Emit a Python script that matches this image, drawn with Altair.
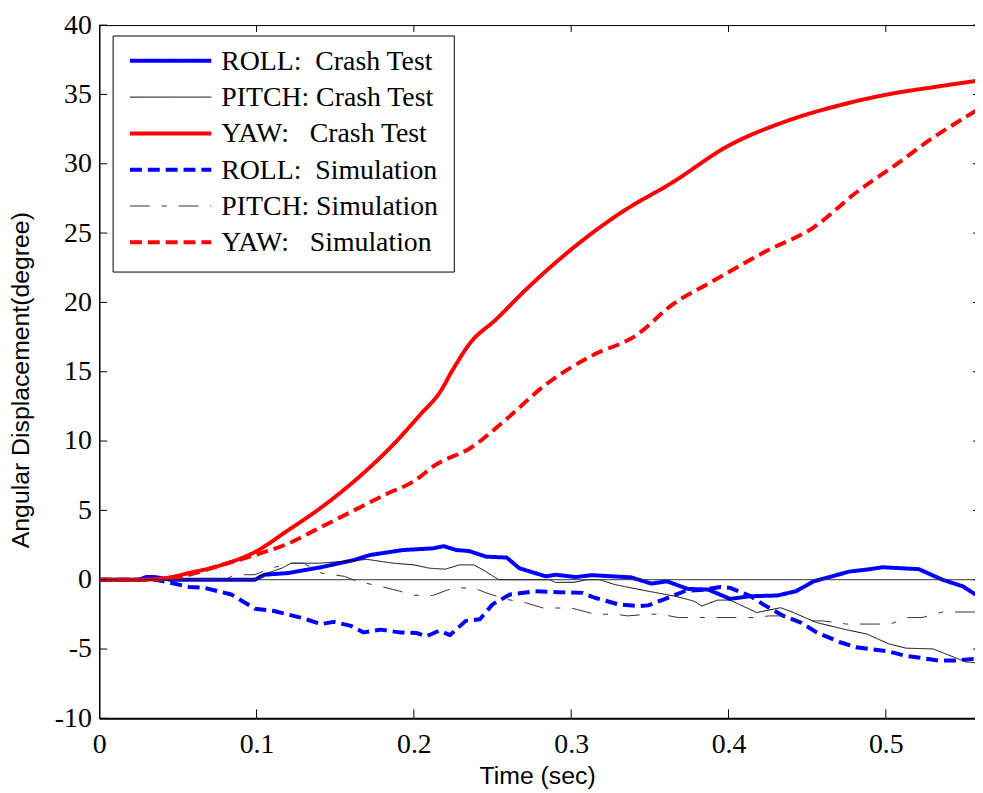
import altair as alt
import pandas as pd

NB = "\u00a0"
LABELS = [
    "ROLL:" + NB * 2 + "Crash Test",
    "PITCH:" + NB + "Crash Test",
    "YAW:" + NB * 3 + "Crash Test",
    "ROLL:" + NB * 2 + "Simulation",
    "PITCH:" + NB + "Simulation",
    "YAW:" + NB * 3 + "Simulation",
]

ROLL_CRASH_T = [0, 0.025, 0.03, 0.035, 0.045, 0.099, 0.105, 0.120, 0.141, 0.162, 0.172, 0.193, 0.212, 0.219,
                0.227, 0.235, 0.246, 0.259, 0.267, 0.277, 0.284, 0.290, 0.303, 0.313, 0.338, 0.351, 0.361,
                0.374, 0.387, 0.401, 0.414, 0.431, 0.443, 0.454, 0.464, 0.477, 0.490, 0.498, 0.506, 0.521,
                0.536, 0.549, 0.557]
ROLL_CRASH_V = [0, 0, 0.2, 0.2, 0, 0, 0.36, 0.48, 0.9, 1.42, 1.78, 2.14, 2.26, 2.42,
                2.14, 2.07, 1.66, 1.6, 0.83, 0.48, 0.24, 0.36, 0.19, 0.33, 0.17, -0.28, -0.12,
                -0.66, -0.71, -1.38, -1.19, -1.14, -0.83, -0.12, 0.19, 0.59, 0.76, 0.9, 0.85, 0.76,
                0.0, -0.48, -1.07]

PITCH_CRASH_T = [0, 0.099, 0.101, 0.116, 0.122, 0.140, 0.166, 0.170, 0.187, 0.200, 0.210, 0.220, 0.229,
                 0.238, 0.244, 0.254, 0.286, 0.290, 0.302, 0.310, 0.318, 0.328, 0.349, 0.366, 0.378,
                 0.383, 0.393, 0.401, 0.418, 0.433, 0.439, 0.456, 0.473, 0.488, 0.502, 0.513, 0.530,
                 0.551, 0.557]
PITCH_CRASH_V = [0, 0, 0.24, 0.83, 1.19, 1.19, 1.42, 1.47, 1.19, 1.07, 0.83, 0.76, 1.07,
                 1.07, 0.71, 0, 0, -0.19, -0.19, 0, 0, -0.36, -0.83, -1.19, -1.54,
                 -1.9, -1.47, -1.47, -2.37, -2.02, -2.26, -3.09, -3.56, -3.92, -4.63, -4.94, -4.99,
                 -5.93, -5.98]

YAW_CRASH_T = [0, 0.025, 0.042, 0.057, 0.078, 0.099, 0.120, 0.141, 0.162, 0.189, 0.204, 0.217, 0.224,
               0.236, 0.252, 0.271, 0.302, 0.330, 0.365, 0.400, 0.435, 0.470, 0.506, 0.529, 0.557]
YAW_CRASH_V = [0, 0, 0.12, 0.48, 1.07, 2.0, 3.56, 5.2, 7.1, 10.0, 11.9, 13.6, 15.0,
               17.1, 18.75, 20.9, 24.0, 26.35, 28.7, 31.3, 33.0, 34.2, 35.1, 35.5, 35.97]

ROLL_SIM_T = [0, 0.036, 0.046, 0.057, 0.067, 0.084, 0.099, 0.111, 0.128, 0.141, 0.149, 0.160, 0.168,
              0.179, 0.191, 0.202, 0.208, 0.216, 0.223, 0.233, 0.242, 0.250, 0.261, 0.277, 0.292,
              0.307, 0.315, 0.330, 0.343, 0.349, 0.359, 0.372, 0.385, 0.395, 0.401, 0.414, 0.422,
              0.435, 0.446, 0.456, 0.471, 0.481, 0.492, 0.502, 0.513, 0.523, 0.534, 0.544, 0.557]
ROLL_SIM_V = [0, 0, -0.24, -0.52, -0.59, -1.07, -2.09, -2.26, -2.73, -3.2, -3.04, -3.33, -3.8,
              -3.6, -3.8, -3.85, -4.08, -3.68, -3.99, -2.97, -2.85, -1.78, -1.07, -0.83, -0.9,
              -0.95, -1.3, -1.78, -1.9, -1.85, -1.42, -0.83, -0.71, -0.52, -0.59, -1.19, -1.78,
              -2.61, -3.09, -3.8, -4.51, -4.87, -5.03, -5.18, -5.5, -5.65, -5.84, -5.82, -5.7]

PITCH_SIM_T = [0, 0.080, 0.086, 0.099, 0.109, 0.122, 0.130, 0.141, 0.156, 0.164, 0.179, 0.191, 0.200,
               0.212, 0.225, 0.238, 0.246, 0.259, 0.271, 0.282, 0.300, 0.315, 0.328, 0.336, 0.349,
               0.357, 0.368, 0.378, 0.405, 0.416, 0.426, 0.440, 0.443, 0.460, 0.475, 0.503, 0.513,
               0.523, 0.536, 0.557]
PITCH_SIM_V = [0, 0, 0.36, 0.36, 0.83, 1.19, 1.19, 0.48, 0.24, -0.12, -0.48, -0.83, -1.12,
               -1.14, -0.59, -0.59, -0.95, -1.42, -1.66, -2.04, -2.04, -2.49, -2.49, -2.61, -2.49,
               -2.49, -2.73, -2.73, -2.73, -2.73, -2.61, -2.61, -2.97, -2.97, -3.2, -3.2, -2.73,
               -2.73, -2.33, -2.33]

YAW_SIM_T = [0, 0.030, 0.045, 0.057, 0.078, 0.099, 0.120, 0.141, 0.162, 0.183, 0.200, 0.214, 0.236,
             0.259, 0.283, 0.313, 0.341, 0.365, 0.388, 0.424, 0.454, 0.482, 0.506, 0.529, 0.557]
YAW_SIM_V = [0, 0, 0.1, 0.36, 1.07, 1.78, 2.6, 3.8, 5.0, 6.2, 7.1, 8.3, 9.5,
             11.6, 14.0, 16.15, 17.6, 19.9, 21.4, 23.7, 25.4, 28.0, 29.9, 31.8, 33.8]

COLORS = ["#0000ff", "#000000", "#ff0000", "#0000ff", "#333333", "#ff0000"]
WIDTHS = [4, 1, 4, 4, 1, 4]
DASHES = [[1, 0], [1, 0], [1, 0], [12, 6], [20, 12, 5, 12], [12, 6]]
INTERP = ["linear", "linear", "monotone", "linear", "linear", "monotone"]

Y_TICKS = [-10, -5, 0, 5, 10, 15, 20, 25, 30, 35, 40]
X_TICKS = [0, 0.1, 0.2, 0.3, 0.4, 0.5]

W, H = 883, 699
X_MAX = 0.5567

series_data = [
    (ROLL_CRASH_T, ROLL_CRASH_V), (PITCH_CRASH_T, PITCH_CRASH_V), (YAW_CRASH_T, YAW_CRASH_V),
    (ROLL_SIM_T, ROLL_SIM_V), (PITCH_SIM_T, PITCH_SIM_V), (YAW_SIM_T, YAW_SIM_V),
]

xscale = alt.Scale(domain=[0, X_MAX], nice=False, zero=False)
yscale = alt.Scale(domain=[-10, 40], nice=False, zero=False)

xaxis = alt.Axis(values=X_TICKS, labelExpr="'' + datum.value", title="Time (sec)", grid=False, ticks=False,
                 tickSize=0, labelPadding=12, labelFlush=False, labelFont="Liberation Serif",
                 labelFontSize=28, labelColor="black", titleFont="Liberation Sans",
                 titleFontSize=25, titleFontWeight="normal", titleColor="black",
                 titlePadding=6, domainColor="black", domainWidth=2)
yaxis = alt.Axis(values=Y_TICKS, labelExpr="'' + datum.value", title="Angular Displacement(degree)",
                 grid=False, ticks=False,
                 tickSize=0, labelPadding=8, labelFlush=False, labelFont="Liberation Serif",
                 labelFontSize=28, labelColor="black", titleFont="Liberation Sans",
                 titleFontSize=25, titleFontWeight="normal", titleColor="black",
                 titlePadding=21, titleY=H / 2 + 8, domainColor="black", domainWidth=1.5)

X_ENC = alt.X("t:Q", scale=xscale, axis=xaxis)
Y_ENC = alt.Y("v:Q", scale=yscale, axis=yaxis)

line_layers = []
for i, (ts, vs) in enumerate(series_data):
    d = pd.DataFrame({"t": ts, "v": vs})
    line_layers.append(
        alt.Chart(d).mark_line(clip=True, strokeJoin="round", color=COLORS[i], interpolate=INTERP[i],
                               strokeWidth=WIDTHS[i], strokeDash=DASHES[i]).encode(x=X_ENC, y=Y_ENC))

zero = alt.Chart(pd.DataFrame({"v": [0]})).mark_rule(color="#333333", strokeWidth=1).encode(y=Y_ENC)

ydf = pd.DataFrame({"v": Y_TICKS})
xdf = pd.DataFrame({"t": [v for v in X_TICKS if v > 0]})
tick_l = alt.Chart(ydf).mark_rule(color="black", strokeWidth=1).encode(
    y=Y_ENC, x=alt.value(0), x2=alt.value(8))
tick_r = alt.Chart(ydf).mark_rule(color="black", strokeWidth=1).encode(
    y=Y_ENC, x=alt.value(W - 2), x2=alt.value(W))
tick_t = alt.Chart(xdf).mark_rule(color="black", strokeWidth=1).encode(
    x=X_ENC, y=alt.value(0), y2=alt.value(7))
tick_b = alt.Chart(xdf).mark_rule(color="black", strokeWidth=1).encode(
    x=X_ENC, y=alt.value(H - 9), y2=alt.value(H))
top_border = alt.Chart(pd.DataFrame({"a": [0]})).mark_rule(color="black", strokeWidth=1).encode(
    x=alt.value(0), x2=alt.value(W), y=alt.value(0.5))

# legend
LX0, LX1, LY0, LY1 = 14, 358, 11, 249
ROW0, ROWSTEP = 36, 36.6
legend_layers = [
    alt.Chart(pd.DataFrame({"a": [0]})).mark_rect(fill="white", stroke="black", strokeWidth=1).encode(
        x=alt.value(LX0), x2=alt.value(LX1), y=alt.value(LY0), y2=alt.value(LY1))
]
for i, lab in enumerate(LABELS):
    yy = ROW0 + i * ROWSTEP
    legend_layers.append(
        alt.Chart(pd.DataFrame({"label": [lab]})).mark_rule(
            color=COLORS[i], strokeWidth=WIDTHS[i], strokeDash=DASHES[i]).encode(
            x=alt.value(31), x2=alt.value(113), y=alt.value(yy)))
    legend_layers.append(
        alt.Chart(pd.DataFrame({"label": [lab]})).mark_text(
            font="Liberation Serif", fontSize=28, align="left", baseline="middle", color="black").encode(
            text="label:N", x=alt.value(123), y=alt.value(yy + 1)))

chart = alt.layer(*line_layers, zero, tick_l, tick_r, tick_t, tick_b, top_border, *legend_layers).properties(
    width=W, height=H,
    autosize=alt.AutoSizeParams(type="none"),
    padding={"left": 92, "top": 14, "right": 0, "bottom": 70},
).configure_view(stroke=None).configure(background="white")

chart.save("out.html", embed_options={"renderer": "svg", "actions": False})
